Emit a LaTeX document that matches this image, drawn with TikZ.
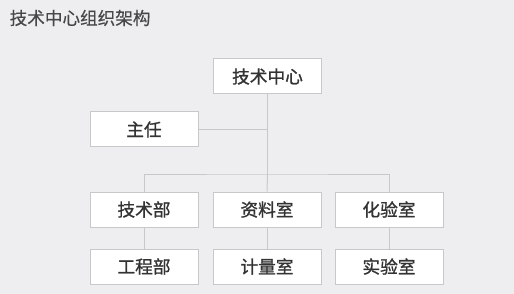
\documentclass[tikz,border=0pt]{standalone}
\usepackage{fontspec}
\setmainfont{Noto Sans CJK SC}
\newfontfamily\unitfont[FakeBold=1]{Noto Sans CJK SC}
\newfontfamily\titlefont[FakeBold=0.4]{Noto Sans CJK SC}
\usetikzlibrary{positioning}
\definecolor{bggrey}{RGB}{238,238,240}
\definecolor{edgegrey}{RGB}{200,200,202}
\definecolor{textgrey}{RGB}{51,51,51}

\tikzset{
  unit/.style={draw=edgegrey,fill=white,line width=1pt,minimum width=108pt,minimum height=35pt,
    inner sep=0pt,text=textgrey,font=\unitfont\fontsize{17.7}{17.7}\selectfont},
  link/.style={draw=edgegrey,line width=1pt}
}

\begin{document}
\begin{tikzpicture}[x=1pt,y=-1pt]
\fill[bggrey] (0,0) rectangle (514,294);
\node[anchor=west,inner sep=0pt,text=textgrey!90,font=\titlefont\fontsize{17.6}{17.6}\selectfont] (title) at (9.5,18) {技术中心组织架构};

% top
\node[unit] (centre) at (267.5,76.5) {技术中心};
\node[unit] (chief) at (144,129.5) {主任};
\coordinate (bus) at (267.5,174);

% departments
\node[unit] (tech) at (144,209.5) {技术部};
\node[unit,right=14pt of tech] (data) {资料室};
\node[unit,right=13pt of data] (chem) {化验室};
\node[unit,below=21pt of tech] (eng) {工程部};
\node[unit,below=21pt of data] (meas) {计量室};
\node[unit,below=21pt of chem] (exp) {实验室};

\draw[link] (centre.south) -- (bus);
\draw[link] (chief.east) -- (chief.east -| centre.south);
\draw[link] (tech.north) |- (bus) -| (chem.north);
\draw[link] (bus) -- (data.north);
\draw[link] (tech) -- (eng);
\draw[link] (data) -- (meas);
\draw[link] (chem) -- (exp);
\end{tikzpicture}
\end{document}
